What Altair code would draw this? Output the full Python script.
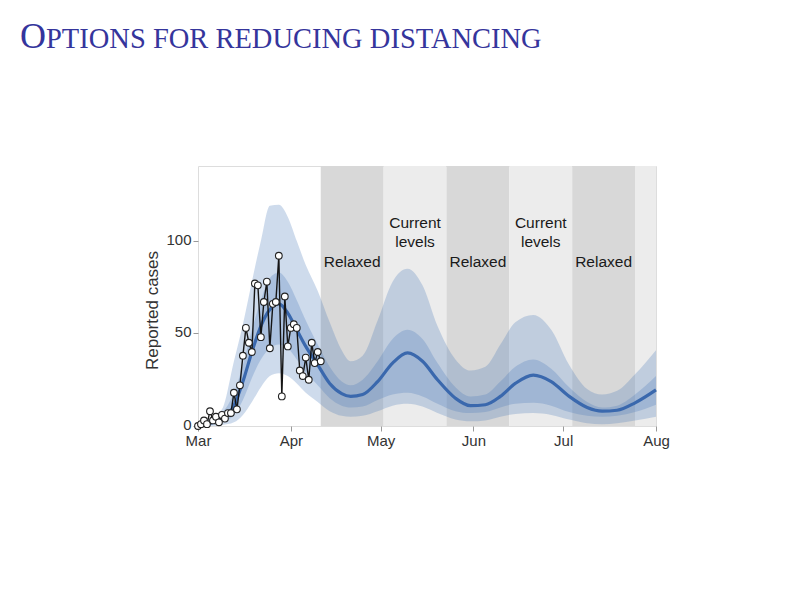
import altair as alt
import pandas as pd

# ---------------- data ----------------
start = pd.Timestamp("2020-03-01")

obs_values = [0, 1, 3, 1, 8, 3, 5, 2, 6, 4, 7, 7, 18, 9, 22, 38, 53, 45, 40, 77,
              76, 48, 67, 78, 42, 66, 67, 92, 16, 70, 43, 53, 55, 53, 30, 27, 37,
              25, 45, 34, 40, 35]

model_days = [0, 4, 8, 12, 15, 18, 21, 24, 27, 30, 33, 36, 40, 44, 48, 51, 55, 60,
              65, 70, 75, 80, 86, 91, 96, 101, 106, 112, 118, 124, 130, 135, 140, 146, 153]
median = [0.5, 1.5, 4, 11, 24, 40, 54, 63, 66, 61, 52, 43, 33, 23, 17.5, 16, 17, 24,
          34, 39.5, 35, 25, 15, 11, 11.5, 16, 23, 27.5, 24, 16, 10, 8, 8.5, 12.5, 19.5]
inner_hi = [1, 3, 7, 18, 33, 52, 68, 80, 83, 78, 68, 57, 44, 32, 24, 22, 25, 35,
            47, 52, 47, 34, 21, 16, 17, 24, 32, 36, 31, 21, 13, 10, 11, 17, 27]
inner_lo = [0, 0.5, 2, 6, 14, 26, 36, 42, 44, 42, 36, 29, 22, 15, 11, 10, 10.5, 14,
            17, 18, 16, 12, 8, 7, 7.5, 10, 12, 12.5, 11, 7.5, 5.5, 5, 5.5, 7.5, 11.5]
outer_hi = [1.5, 4, 9, 35, 55, 78, 100, 119, 119.5, 113, 100, 87, 73, 56, 41, 35, 38, 57,
            78, 85, 76, 54, 36, 30, 32, 44, 56, 60, 52, 33, 20, 17, 19, 28, 41]
outer_lo = [0, 0, 0.5, 2, 6, 13, 21, 27, 28.5, 27, 23, 18, 13, 8, 5.5, 5, 5.5, 8,
            11, 12, 10.5, 7, 3.5, 2.5, 3, 5, 6.5, 7, 6, 3.5, 1.5, 1, 1.5, 3, 5]

period_starts = ["2020-04-11", "2020-05-02", "2020-05-23", "2020-06-13", "2020-07-04", "2020-07-25"]
period_ends = ["2020-05-02", "2020-05-23", "2020-06-13", "2020-07-04", "2020-07-25", "2020-08-01"]
period_kind = ["Relaxed", "Current", "Relaxed", "Current", "Relaxed", "Current"]

label_dates = ["2020-04-21 12:00", "2020-05-12 12:00", "2020-06-02 12:00",
               "2020-06-23 12:00", "2020-07-14 12:00"]
label_texts = ["Relaxed", "Current\nlevels", "Relaxed", "Current\nlevels", "Relaxed"]
label_vals = [88.6, 109.7, 88.6, 109.7, 88.6]

month_ticks = ["2020-03-01", "2020-04-01", "2020-05-01", "2020-06-01", "2020-07-01", "2020-08-01"]

# ---------------- tables ----------------
obs = pd.DataFrame({"date": [start + pd.Timedelta(days=i) for i in range(len(obs_values))],
                    "cases": obs_values})
model = pd.DataFrame({"date": [start + pd.Timedelta(days=d) for d in model_days],
                      "median": median, "ilo": inner_lo, "ihi": inner_hi,
                      "olo": outer_lo, "ohi": outer_hi})
periods = pd.DataFrame({"s": pd.to_datetime(period_starts), "e": pd.to_datetime(period_ends),
                        "kind": period_kind})
labels = pd.DataFrame({"date": pd.to_datetime(label_dates), "v": label_vals, "t": label_texts})

W, H = 458, 260
xscale = alt.Scale(domain=[pd.Timestamp("2020-03-01").isoformat(), pd.Timestamp("2020-08-01").isoformat()],
                   nice=False)
yscale = alt.Scale(domain=[0, 140.5], nice=False, zero=True)

xaxis = alt.Axis(title=None, format="%b", values=[pd.Timestamp(m).isoformat() for m in month_ticks],
                 labelFlush=False, labelFontSize=15, labelColor="#333", labelFont="Liberation Sans",
                 tickColor="#999", tickSize=5, domain=False, grid=False, labelPadding=2)
yaxis = alt.Axis(title="Reported cases", values=[0, 50, 100], labelFlush=False,
                 labelFontSize=15, labelColor="#333", labelFont="Liberation Sans",
                 titleFont="Liberation Sans", titleFontSize=17, titleFontWeight="normal",
                 titleColor="#333", titleX=-46, titleY=144, titleAngle=270, titleAlign="center",
                 titleBaseline="middle", tickColor="#999", tickSize=5, labelOffset=-1.5,
                 domain=False, grid=False, labelPadding=2)

bg = alt.Chart(periods).mark_rect().encode(
    x=alt.X("s:T", scale=xscale, axis=xaxis),
    x2="e:T",
    color=alt.Color("kind:N", scale=alt.Scale(domain=["Relaxed", "Current"],
                                              range=["#d8d8d8", "#ececec"]), legend=None),
)

band_color = "#4a7ab8"
outer = alt.Chart(model).mark_area(color=band_color, opacity=0.27, interpolate="monotone").encode(
    x=alt.X("date:T", scale=xscale, axis=xaxis),
    y=alt.Y("olo:Q", scale=yscale, axis=yaxis),
    y2="ohi:Q",
)
inner = alt.Chart(model).mark_area(color=band_color, opacity=0.27, interpolate="monotone").encode(
    x="date:T", y="ilo:Q", y2="ihi:Q")
med = alt.Chart(model).mark_line(color="#3a68ad", strokeWidth=3.2, interpolate="monotone").encode(
    x="date:T", y="median:Q")

obs_line = alt.Chart(obs).mark_line(color="#151515", strokeWidth=1.4).encode(
    x="date:T", y="cases:Q")
obs_pts = alt.Chart(obs).mark_point(filled=True, fill="white", stroke="#222", strokeWidth=1.1,
                                    size=45, opacity=1).encode(x="date:T", y="cases:Q")

lab = alt.Chart(labels).mark_text(font="Liberation Sans", fontSize=15.5, color="#1a1a1a",
                                  lineBreak="\n", lineHeight=19, baseline="middle").encode(
    x="date:T", y="v:Q", text="t:N")

title_df = pd.DataFrame({"a": ["O"], "b": ["PTIONS FOR REDUCING DISTANCING"]})
t1 = alt.Chart(title_df).mark_text(font="Liberation Serif", fontSize=36, color="#35359c",
                                   align="left", baseline="alphabetic").encode(
    x=alt.value(-178), y=alt.value(-118), text="a:N")
t2 = alt.Chart(title_df).mark_text(font="Liberation Serif", fontSize=28.5, color="#35359c",
                                   align="left", baseline="alphabetic").encode(
    x=alt.value(-152), y=alt.value(-118), text="b:N")

chart = alt.layer(bg, outer, inner, med, obs_line, obs_pts, lab, t1, t2).properties(
    width=W, height=H,
    autosize=alt.AutoSizeParams(type="none"),
    padding={"left": 190, "top": 158, "right": 110, "bottom": 140},
).configure_view(stroke="#a9a9a9", strokeWidth=2).configure(background="white")

chart.save("out.html", embed_options={"renderer": "svg", "actions": False})
